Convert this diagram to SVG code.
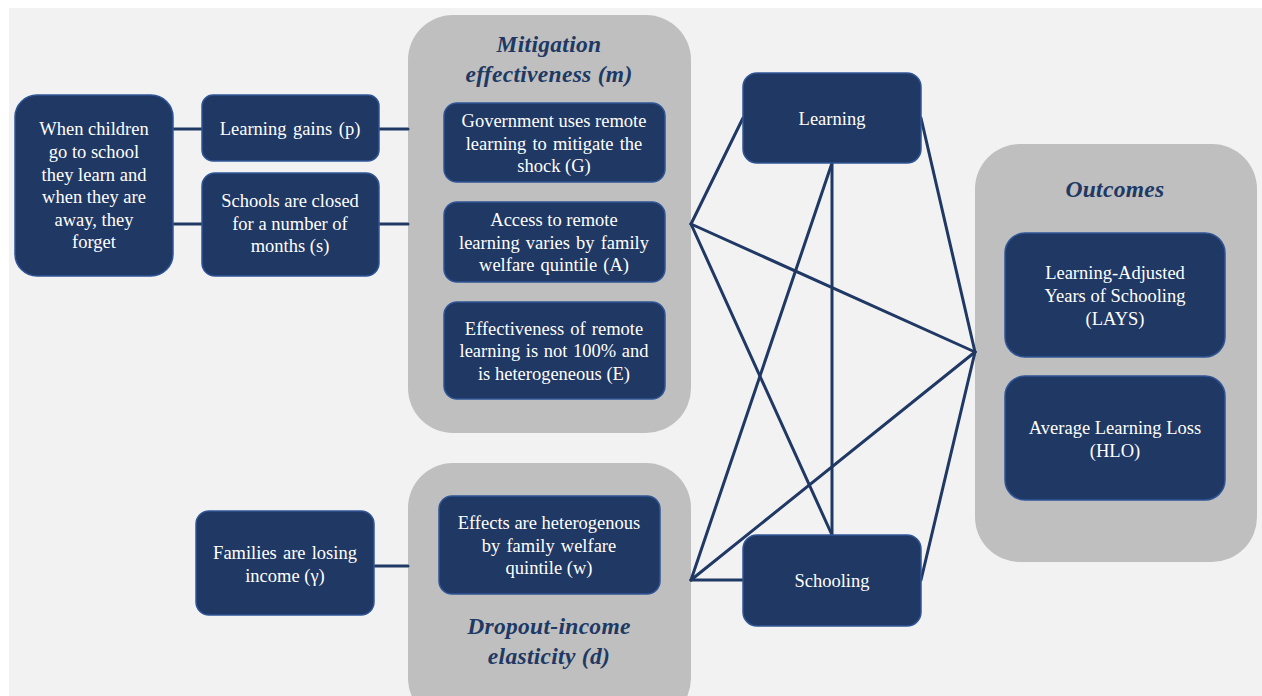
<svg xmlns="http://www.w3.org/2000/svg" width="1262" height="696" viewBox="0 0 1262 696">
<style>
.bg{fill:#f2f2f2}
.cont{fill:#bfbfbf}
.node{fill:#203864;stroke:#2f5597;stroke-width:1.5}
.t{font-family:"Liberation Serif","Times New Roman",serif;font-size:18.5px;fill:#ffffff;text-anchor:middle}
.h{font-family:"Liberation Serif","Times New Roman",serif;font-size:23.5px;font-weight:bold;font-style:italic;fill:#203864;text-anchor:middle;letter-spacing:0.3px}
.c line{stroke:#203864;stroke-width:3;stroke-linecap:round}
</style>
<rect x="0" y="0" width="1262" height="696" fill="#ffffff"/>
<rect class="bg" x="9" y="8" width="1253" height="688"/>

<g id="mitigation-group">
<rect class="cont" x="408" y="15" width="283" height="418" rx="45"/>
<text class="h" x="549" y="52">Mitigation</text>
<text class="h" x="549" y="82">effectiveness (m)</text>
</g>
<g id="dropout-group">
<rect class="cont" x="408" y="463" width="283" height="260" rx="45"/>
<text class="h" x="549" y="634">Dropout-income</text>
<text class="h" x="549" y="664">elasticity (d)</text>
</g>
<g id="outcomes-group">
<rect class="cont" x="975" y="144" width="282" height="418" rx="45"/>
<text class="h" x="1115" y="197">Outcomes</text>
</g>

<g id="connectors" class="c">
<line x1="173" y1="129" x2="202" y2="129"/>
<line x1="173" y1="224" x2="202" y2="224"/>
<line x1="379" y1="129" x2="408" y2="129"/>
<line x1="379" y1="224" x2="408" y2="224"/>
<line x1="374" y1="566" x2="408" y2="566"/>
<line x1="691" y1="224" x2="743" y2="118"/>
<line x1="691" y1="224" x2="975" y2="352"/>
<line x1="691" y1="224" x2="832" y2="535"/>
<line x1="691" y1="580" x2="832" y2="163"/>
<line x1="691" y1="580" x2="975" y2="352"/>
<line x1="691" y1="580" x2="743" y2="580"/>
<line x1="832" y1="163" x2="832" y2="535"/>
<line x1="921" y1="118" x2="975" y2="352"/>
<line x1="921" y1="580" x2="975" y2="352"/>
</g>

<g id="node-children">
<rect class="node" x="15" y="95" width="158" height="181" rx="22"/>
<text class="t" x="94" y="135">When children</text>
<text class="t" x="94" y="158">go to school</text>
<text class="t" x="94" y="181">they learn and</text>
<text class="t" x="94" y="203">when they are</text>
<text class="t" x="94" y="226">away, they</text>
<text class="t" x="94" y="248">forget</text>
</g>
<g id="node-gains">
<rect class="node" x="202" y="95" width="177" height="66" rx="11"/>
<text class="t" x="290" y="135" word-spacing="2">Learning gains (p)</text>
</g>
<g id="node-closed">
<rect class="node" x="202" y="173" width="177" height="103" rx="13"/>
<text class="t" x="290" y="207">Schools are closed</text>
<text class="t" x="290" y="230">for a number of</text>
<text class="t" x="290" y="252">months (s)</text>
</g>
<g id="node-G">
<rect class="node" x="444" y="103" width="221" height="79" rx="13"/>
<text class="t" x="554" y="127">Government uses remote</text>
<text class="t" x="554" y="150" word-spacing="1.5">learning to mitigate the</text>
<text class="t" x="554" y="172">shock (G)</text>
</g>
<g id="node-A">
<rect class="node" x="444" y="202" width="221" height="80" rx="13"/>
<text class="t" x="554" y="226">Access to remote</text>
<text class="t" x="554" y="249" word-spacing="1.5">learning varies by family</text>
<text class="t" x="554" y="271" word-spacing="1.5">welfare quintile (A)</text>
</g>
<g id="node-E">
<rect class="node" x="444" y="302" width="221" height="97" rx="13"/>
<text class="t" x="554" y="335" word-spacing="1.5">Effectiveness of remote</text>
<text class="t" x="554" y="357" word-spacing="1">learning is not 100% and</text>
<text class="t" x="554" y="380">is heterogeneous (E)</text>
</g>
<g id="node-families">
<rect class="node" x="196" y="511" width="178" height="104" rx="13"/>
<text class="t" x="285" y="559" word-spacing="1.5">Families are losing</text>
<text class="t" x="285" y="582">income (γ)</text>
</g>
<g id="node-w">
<rect class="node" x="439" y="496" width="221" height="98" rx="13"/>
<text class="t" x="549" y="529">Effects are heterogenous</text>
<text class="t" x="549" y="552" word-spacing="1.5">by family welfare</text>
<text class="t" x="549" y="574">quintile (w)</text>
</g>
<g id="node-learning">
<rect class="node" x="743" y="73" width="178" height="90" rx="14"/>
<text class="t" x="832" y="125">Learning</text>
</g>
<g id="node-schooling">
<rect class="node" x="743" y="535" width="178" height="91" rx="14"/>
<text class="t" x="832" y="587">Schooling</text>
</g>
<g id="node-lays">
<rect class="node" x="1005" y="233" width="220" height="124" rx="20"/>
<text class="t" x="1115" y="279">Learning-Adjusted</text>
<text class="t" x="1115" y="302">Years of Schooling</text>
<text class="t" x="1115" y="325">(LAYS)</text>
</g>
<g id="node-hlo">
<rect class="node" x="1005" y="376" width="220" height="124" rx="20"/>
<text class="t" x="1115" y="434">Average Learning Loss</text>
<text class="t" x="1115" y="457">(HLO)</text>
</g>
</svg>
